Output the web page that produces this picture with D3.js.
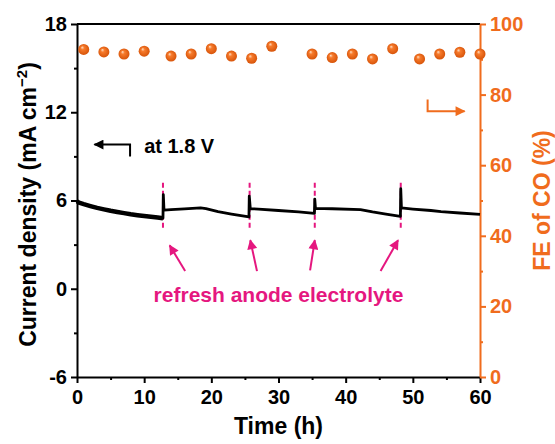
<!DOCTYPE html>
<html>
<head>
<meta charset="utf-8">
<script src="https://cdn.jsdelivr.net/npm/d3@7"></script>
<style>
  html, body { margin: 0; padding: 0; background: #fff; }
  svg { display: block; font-family: "Liberation Sans", Arial, Helvetica, sans-serif; font-weight: bold; }
</style>
</head>
<body>
<svg id="chart" width="555" height="444"></svg>
<script>
// Chronoamperometry at 1.8 V with Faradaic efficiency of CO
const timeH = [0, 0.3, 1, 2, 3, 4, 5, 6, 7, 8, 9, 10, 11, 12, 12.8,
  12.85, 12.95, 14, 16, 18.4, 19.2, 21, 23, 25.6,
  25.65, 25.8, 27, 30, 33, 35.35,
  35.4, 35.5, 38, 42.2, 44, 46, 48.15,
  48.2, 48.3, 50, 52.7, 54.2, 57, 60];
const currentDensity = [5.95, 5.85, 5.75, 5.62, 5.5, 5.4, 5.3, 5.22, 5.14, 5.06, 5.0, 4.95, 4.9, 4.85, 4.8,
  6.4, 5.35, 5.38, 5.43, 5.5, 5.45, 5.25, 5.08, 4.88,
  6.3, 5.45, 5.42, 5.32, 5.22, 5.12,
  6.1, 5.46, 5.44, 5.38, 5.22, 5.08, 4.92,
  6.8, 5.5, 5.42, 5.32, 5.25, 5.15, 5.05];

const feTime = [1, 4, 7, 10, 14, 17, 20, 23, 26, 29, 35, 38, 41, 44, 47, 51, 54, 57, 60];
const feCO = [92.8, 92.1, 91.5, 92.3, 90.9, 91.5, 93.0, 90.9, 90.3, 93.7, 91.5, 90.5, 91.5, 90.1, 93.0, 90.1, 91.5, 92.0, 91.5];

const refreshTimes = [12.8, 25.7, 35.4, 48.2];

const xTicks = [0, 10, 20, 30, 40, 50, 60];
const xMinor = [5, 15, 25, 35, 45, 55];
const yTicks = [-6, 0, 6, 12, 18];
const yMinor = [-3, 3, 9, 15];
const y2Ticks = [0, 20, 40, 60, 80, 100];
const y2Minor = [10, 30, 50, 70, 90];

const BLACK = "#000", ORANGE = "#f06c1d", MAGENTA = "#e5177f";

const svg = d3.select("#chart");
const L = 77, R = 480, T = 24, B = 377;

const x = d3.scaleLinear().domain([0, 60]).range([L, R]);
const y = d3.scaleLinear().domain([-6, 18]).range([B, T]);
const y2 = d3.scaleLinear().domain([0, 100]).range([B, T]);

const defs = svg.append("defs");
const grad = defs.append("radialGradient").attr("id", "ball")
  .attr("cx", "50%").attr("cy", "50%").attr("r", "55%")
  .attr("fx", "35%").attr("fy", "30%");
grad.append("stop").attr("offset", "0%").attr("stop-color", "#ffe2c8");
grad.append("stop").attr("offset", "30%").attr("stop-color", "#f77b2c");
grad.append("stop").attr("offset", "100%").attr("stop-color", "#d45006");

function styleAxis(g, color) {
  g.selectAll("path.domain").attr("stroke", color).attr("stroke-width", 2);
  g.selectAll(".tick line").attr("stroke", color).attr("stroke-width", 2);
  g.selectAll(".tick text").attr("fill", color)
    .style("font-size", "20px").style("font-weight", "bold")
    .style("font-family", "'Liberation Sans', Arial, sans-serif");
}

// top frame line
svg.append("line").attr("x1", L).attr("x2", R).attr("y1", T).attr("y2", T)
  .attr("stroke", BLACK).attr("stroke-width", 2);

// bottom axis
const gx = svg.append("g").attr("transform", `translate(0,${B})`)
  .call(d3.axisBottom(x).tickValues(xTicks).tickSize(6).tickPadding(7).tickSizeOuter(0));
styleAxis(gx, BLACK);
const gxm = svg.append("g").attr("transform", `translate(0,${B})`)
  .call(d3.axisBottom(x).tickValues(xMinor).tickSize(3).tickFormat(""));
gxm.select("path.domain").remove();
styleAxis(gxm, BLACK);

// left axis
const gy = svg.append("g").attr("transform", `translate(${L},0)`)
  .call(d3.axisLeft(y).tickValues(yTicks).tickSize(6).tickPadding(4).tickSizeOuter(0)
    .tickFormat(d => d < 0 ? "-" + Math.abs(d) : d));
styleAxis(gy, BLACK);
const gym = svg.append("g").attr("transform", `translate(${L},0)`)
  .call(d3.axisLeft(y).tickValues(yMinor).tickSize(3).tickFormat(""));
gym.select("path.domain").remove();
styleAxis(gym, BLACK);

// right axis
const gy2 = svg.append("g").attr("transform", `translate(${R},0)`)
  .call(d3.axisRight(y2).tickValues(y2Ticks).tickSize(6).tickPadding(4).tickSizeOuter(0));
styleAxis(gy2, ORANGE);
const gy2m = svg.append("g").attr("transform", `translate(${R},0)`)
  .call(d3.axisRight(y2).tickValues(y2Minor).tickSize(3).tickFormat(""));
gy2m.select("path.domain").remove();
styleAxis(gy2m, ORANGE);

// axis titles
svg.append("text").attr("x", (L + R) / 2).attr("y", 434)
  .attr("text-anchor", "middle").attr("fill", BLACK).style("font-size", "23px")
  .text("Time (h)");

const yt = svg.append("text").attr("transform", `translate(36,${(T + B) / 2 + 4}) rotate(-90)`)
  .attr("text-anchor", "middle").attr("fill", BLACK).style("font-size", "23px");
yt.append("tspan").text("Current density (mA cm");
yt.append("tspan").attr("dy", -9).style("font-size", "15px").text("\u22122");
yt.append("tspan").attr("dy", 9).text(")");

svg.append("text").attr("transform", `translate(550,${(T + B) / 2}) rotate(-90)`)
  .attr("text-anchor", "middle").attr("fill", ORANGE).style("font-size", "23px")
  .text("FE of CO (%)");

// refresh markers
const dashTop = 7.2, dashBottom = 4.1;
svg.append("g").selectAll("line").data(refreshTimes).join("line")
  .attr("x1", d => x(d)).attr("x2", d => x(d))
  .attr("y1", y(dashTop)).attr("y2", y(dashBottom))
  .attr("stroke", MAGENTA).attr("stroke-width", 2).attr("stroke-dasharray", "5,3");

// current density trace
const pts = timeH.map((t, i) => [t, currentDensity[i]]);
const line = d3.line().x(d => x(d[0])).y(d => y(d[1]));
svg.append("path").datum(pts.filter(d => d[0] <= refreshTimes[0]))
  .attr("d", line).attr("fill", "none").attr("stroke", BLACK).attr("stroke-width", 4.5)
  .attr("stroke-linejoin", "round");
svg.append("path").datum(pts)
  .attr("d", line).attr("fill", "none").attr("stroke", BLACK).attr("stroke-width", 2.8)
  .attr("stroke-linejoin", "round");

// FE points
svg.append("g").selectAll("circle").data(feTime.map((t, i) => [t, feCO[i]])).join("circle")
  .attr("cx", d => x(d[0])).attr("cy", d => y2(d[1])).attr("r", 5.5)
  .attr("fill", "url(#ball)");

// arrowheads
function marker(id, color) {
  defs.append("marker").attr("id", id).attr("viewBox", "0 0 10 10")
    .attr("refX", 9).attr("refY", 5).attr("markerWidth", 6).attr("markerHeight", 5)
    .attr("markerUnits", "strokeWidth").attr("orient", "auto")
    .append("path").attr("d", "M0,0L10,5L0,10Z").attr("fill", color);
}
marker("arrM", MAGENTA);
marker("arrK", BLACK);
marker("arrO", ORANGE);

// arrows pointing at each refresh: [tail time, tail j, head time, head j]
const refreshArrows = [
  [16.1, 1.2, 13.8, 2.95],
  [26.8, 1.2, 25.8, 3.3],
  [34.7, 1.25, 35.4, 3.3],
  [45.2, 1.2, 47.8, 3.3]
];
svg.append("g").selectAll("line").data(refreshArrows).join("line")
  .attr("x1", d => x(d[0])).attr("y1", d => y(d[1]))
  .attr("x2", d => x(d[2])).attr("y2", d => y(d[3]))
  .attr("stroke", MAGENTA).attr("stroke-width", 2).attr("marker-end", "url(#arrM)");

svg.append("text").attr("x", (L + R) / 2).attr("y", y(-0.93))
  .attr("text-anchor", "middle").attr("fill", MAGENTA).style("font-size", "21px")
  .text("refresh anode electrolyte");

// series keys
svg.append("path").attr("d", `M${x(7.9)},${y(9.0)}V${y(9.8)}H${x(2.6)}`)
  .attr("fill", "none").attr("stroke", BLACK).attr("stroke-width", 2)
  .attr("marker-end", "url(#arrK)");
svg.append("text").attr("x", x(10)).attr("y", y(9.25))
  .attr("fill", BLACK).style("font-size", "20px").text("at 1.8 V");

svg.append("path").attr("d", `M${x(52.2)},${y2(78.6)}V${y2(75.3)}H${x(57.7)}`)
  .attr("fill", "none").attr("stroke", ORANGE).attr("stroke-width", 2)
  .attr("marker-end", "url(#arrO)");
</script>
</body>
</html>
